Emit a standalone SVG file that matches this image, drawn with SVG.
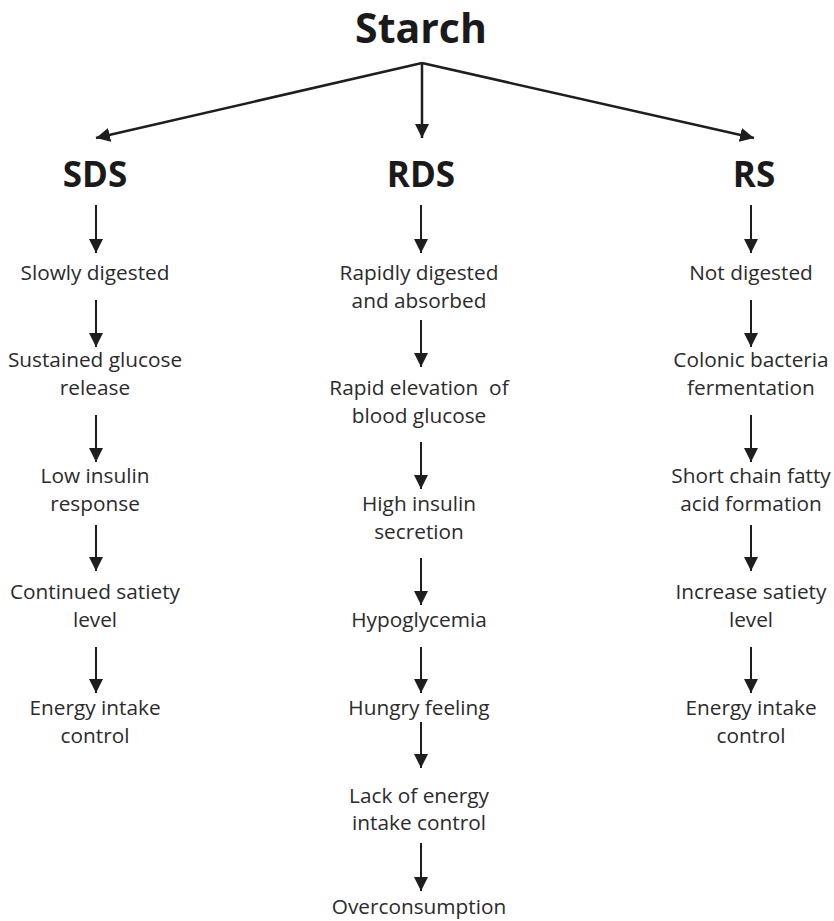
<svg xmlns="http://www.w3.org/2000/svg" width="834" height="921" viewBox="0 0 834 921">
<style>
  text { font-family: "Open Sans", "Noto Sans", sans-serif; fill: #2b2b2b; text-anchor: middle; }
  .t { font-size: 20.8px; }
  .h { font-size: 35px; font-weight: bold; fill: #1a1a1a; }
  .top { font-size: 41px; font-weight: bold; fill: #1a1a1a; }
  .c line { stroke: #1e1e1e; stroke-width: 2; marker-end: url(#ah); }
</style>
<defs>
  <marker id="ah" markerUnits="userSpaceOnUse" markerWidth="14" markerHeight="14" refX="14" refY="7" orient="auto">
    <path d="M0,0 L14,7 L0,14 z" fill="#1e1e1e"/>
  </marker>
</defs>
<rect width="834" height="921" fill="#ffffff"/>

<g id="starch"><text class="top" x="421" y="43">Starch</text></g>
<g id="sds"><text class="h" x="95" y="187">SDS</text></g>
<g id="rds"><text class="h" x="421" y="187">RDS</text></g>
<g id="rs"><text class="h" x="754" y="187">RS</text></g>

<g id="sds1"><text class="t" x="95" y="280">Slowly digested</text></g>
<g id="sds2"><text class="t" x="95" y="367">Sustained glucose</text><text class="t" x="95" y="395">release</text></g>
<g id="sds3"><text class="t" x="95" y="483">Low insulin</text><text class="t" x="95" y="511">response</text></g>
<g id="sds4"><text class="t" x="95" y="599">Continued satiety</text><text class="t" x="95" y="627">level</text></g>
<g id="sds5"><text class="t" x="95" y="715">Energy intake</text><text class="t" x="95" y="743">control</text></g>

<g id="rds1"><text class="t" x="419" y="280">Rapidly digested</text><text class="t" x="419" y="308">and absorbed</text></g>
<g id="rds2"><text class="t" x="419" y="395" xml:space="preserve">Rapid elevation  of</text><text class="t" x="419" y="423">blood glucose</text></g>
<g id="rds3"><text class="t" x="419" y="511">High insulin</text><text class="t" x="419" y="539">secretion</text></g>
<g id="rds4"><text class="t" x="419" y="627">Hypoglycemia</text></g>
<g id="rds5"><text class="t" x="419" y="715">Hungry feeling</text></g>
<g id="rds6"><text class="t" x="419" y="803">Lack of energy</text><text class="t" x="419" y="830">intake control</text></g>
<g id="rds7"><text class="t" x="419" y="914">Overconsumption</text></g>

<g id="rs1"><text class="t" x="751" y="280">Not digested</text></g>
<g id="rs2"><text class="t" x="751" y="367">Colonic bacteria</text><text class="t" x="751" y="395">fermentation</text></g>
<g id="rs3"><text class="t" x="751" y="483">Short chain fatty</text><text class="t" x="751" y="511">acid formation</text></g>
<g id="rs4"><text class="t" x="751" y="599">Increase satiety</text><text class="t" x="751" y="627">level</text></g>
<g id="rs5"><text class="t" x="751" y="715">Energy intake</text><text class="t" x="751" y="743">control</text></g>

<g id="connectors" class="c">
  <line x1="422" y1="63" x2="96" y2="138" style="stroke-width:2.5"/>
  <line x1="422" y1="63" x2="422" y2="138" style="stroke-width:2.5"/>
  <line x1="422" y1="63" x2="754" y2="138" style="stroke-width:2.5"/>

  <line x1="96" y1="205" x2="96" y2="253"/>
  <line x1="96" y1="300" x2="96" y2="347"/>
  <line x1="96" y1="415" x2="96" y2="462"/>
  <line x1="96" y1="525" x2="96" y2="571"/>
  <line x1="96" y1="647" x2="96" y2="693"/>

  <line x1="421" y1="205" x2="421" y2="253"/>
  <line x1="421" y1="320" x2="421" y2="367"/>
  <line x1="421" y1="442" x2="421" y2="489"/>
  <line x1="421" y1="558" x2="421" y2="605"/>
  <line x1="421" y1="647" x2="421" y2="693"/>
  <line x1="421" y1="722" x2="421" y2="768"/>
  <line x1="421" y1="843" x2="421" y2="891"/>

  <line x1="751" y1="205" x2="751" y2="253"/>
  <line x1="751" y1="300" x2="751" y2="347"/>
  <line x1="751" y1="415" x2="751" y2="462"/>
  <line x1="751" y1="525" x2="751" y2="571"/>
  <line x1="751" y1="647" x2="751" y2="693"/>
</g>
</svg>
